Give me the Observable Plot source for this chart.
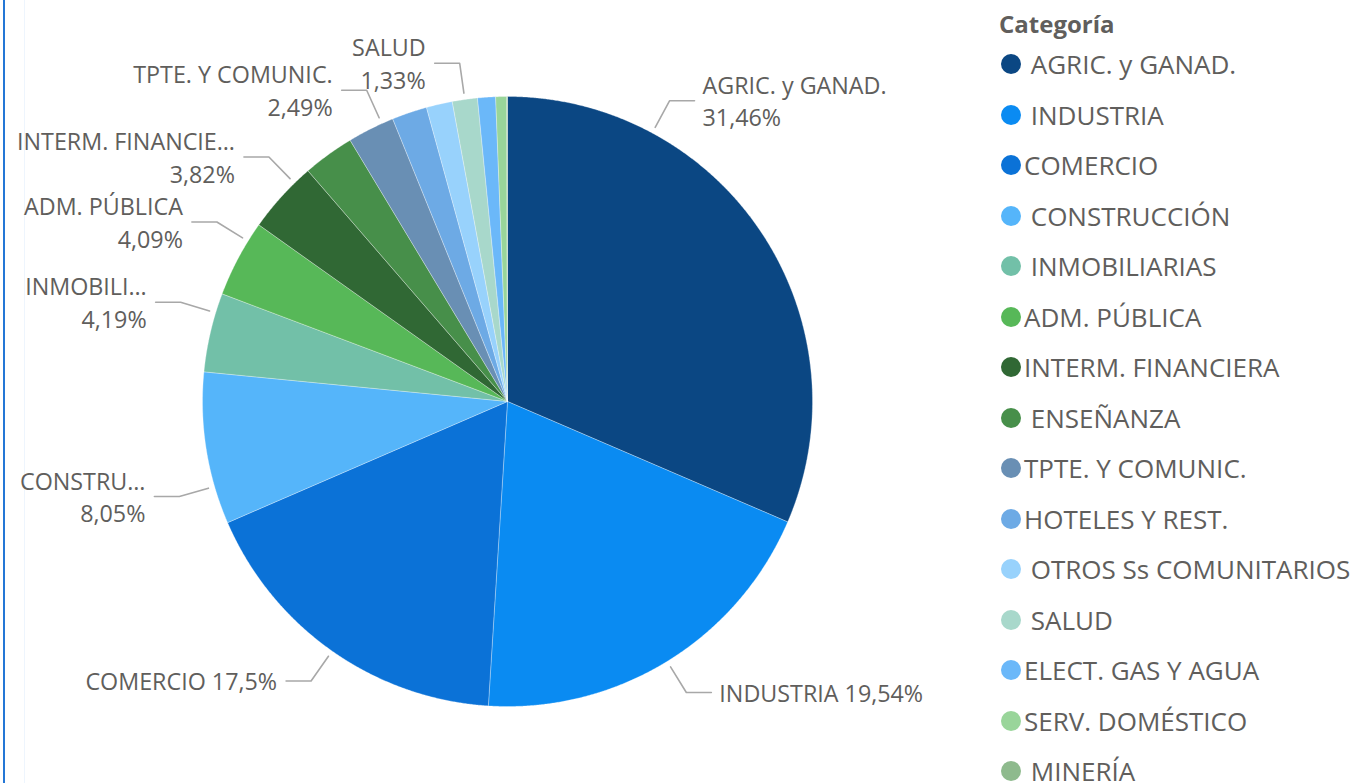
<!DOCTYPE html>
<html>
<head>
<meta charset="utf-8">
<script src="https://cdn.jsdelivr.net/npm/d3@7"></script>
<script src="https://cdn.jsdelivr.net/npm/@observablehq/plot@0.6"></script>
<style>
  html, body { margin: 0; padding: 0; background: #fff; overflow: hidden; }
  #wrap { position: relative; width: 1351px; height: 783px; overflow: hidden; font-family: "Open Sans", sans-serif; }
  #chart { position: absolute; left: 0; top: 0; }
  #edge { position: absolute; left: 3px; top: 0; width: 2px; height: 783px; background: #2477D6; }
  #edge2 { position: absolute; left: 24px; top: 0; width: 1px; height: 783px; background: #EEF5FD; }
  .lg-title { position: absolute; left: 999px; top: 4px; font-size: 24px; line-height: 40px; font-weight: 700; color: #605E5C; }
  .lg-row { position: absolute; left: 1001px; height: 50.5px; display: flex; align-items: center; white-space: pre; }
  .lg-dot { width: 20px; height: 20px; border-radius: 50%; flex: none; }
  .lg-text { margin-left: 3px; font-size: 26px; color: #605E5C; }
</style>
</head>
<body>
<div id="wrap">
  <div id="edge"></div>
  <div id="edge2"></div>
  <div id="chart"></div>
  <div id="legend"></div>
</div>
<script>
// ---- data ----
const categories = [
  " AGRIC. y GANAD.", " INDUSTRIA", "COMERCIO", " CONSTRUCCIÓN", " INMOBILIARIAS",
  "ADM. PÚBLICA", "INTERM. FINANCIERA", " ENSEÑANZA", "TPTE. Y COMUNIC.", "HOTELES Y REST.",
  " OTROS Ss COMUNITARIOS", " SALUD", "ELECT. GAS Y AGUA", "SERV. DOMÉSTICO", " MINERÍA"
];
const values = [31.46, 19.54, 17.5, 8.05, 4.19, 4.09, 3.82, 2.72, 2.49, 1.86, 1.38, 1.33, 0.95, 0.58, 0.04];
const colors = [
  "#0B4783", "#0A8BF2", "#0B72D7", "#55B5FA", "#72C0A8",
  "#57B858", "#306834", "#478F4A", "#698FB4", "#6DAAE5",
  "#98D2FC", "#A8D8CB", "#6BB8F9", "#99D59A", "#8EBA8D"
];
// where along each slice Power BI hung its data label (fraction of the slice); null = label hidden
const labelPos = [0.25, 0.5, 0.5, 0.25, 0.75, 0.75, 0.75, null, 0.75, null, null, 0.5, null, null, null];
// labels as truncated in the reference
const labelText = {
  " CONSTRUCCIÓN": "CONSTRU…",
  " INMOBILIARIAS": "INMOBILI…",
  "INTERM. FINANCIERA": "INTERM. FINANCIE…"
};

// ---- layout ----
const W = 990, H = 783, CX = 507, CY = 401, R = 305;
const total = d3.sum(values);
const fmt = p => (Math.round(p * 100) / 100).toString().replace(".", ",") + "%";

const slicePts = [];
const leaders = [];
const labels = [];
let cum = 0;
categories.forEach((name, i) => {
  const a0 = cum / total * 2 * Math.PI;
  const a1 = (cum + values[i]) / total * 2 * Math.PI;
  const n = Math.max(2, Math.ceil((a1 - a0) / 0.004));
  slicePts.push({name, x: 0, y: 0});
  for (let k = 0; k <= n; k++) {
    const a = a0 + (a1 - a0) * k / n;
    slicePts.push({name, x: Math.sin(a), y: Math.cos(a)});
  }
  slicePts.push({name, x: 0, y: 0});
  if (labelPos[i] != null) {
    const t = (cum + labelPos[i] * values[i]) / total * 2 * Math.PI;
    const s = Math.sin(t), c = Math.cos(t);
    const side = s >= 0 ? 1 : -1;
    const ex = 1.12 * s, ey = 1.12 * c;
    const hx = ex + side * 25 / R;
    leaders.push({id: name, x: 1.021 * s, y: 1.021 * c});
    leaders.push({id: name, x: ex, y: ey});
    leaders.push({id: name, x: hx, y: ey});
    const single = c < -0.7;
    const nm = labelText[name] || name.trim();
    const pct = fmt(values[i] / total * 100);
    labels.push({side, x: hx, y: ey, text: nm + (single ? " " : "\n") + pct});
  }
  cum += values[i];
});

const textOpts = {
  x: "x", y: "y", text: "text", lineAnchor: "middle", lineHeight: 1.39,
  fontSize: 23.3, fill: "#605E5C", fontFamily: "Open Sans", dy: -1
};

const chart = Plot.plot({
  width: W, height: H, margin: 0,
  style: {fontFamily: "Open Sans", background: "transparent", overflow: "visible"},
  x: {domain: [-CX / R, (W - CX) / R], range: [0, W], axis: null},
  y: {domain: [-(H - CY) / R, CY / R], range: [H, 0], axis: null},
  color: {domain: categories, range: colors},
  marks: [
    Plot.line(slicePts, {x: "x", y: "y", z: "name", fill: "name", stroke: "#ffffff", strokeWidth: 0.5, strokeOpacity: 0.6, curve: "linear"}),
    Plot.line(leaders, {x: "x", y: "y", z: "id", stroke: "#A8A8A8", strokeWidth: 1.6}),
    Plot.text(labels.filter(d => d.side > 0), {...textOpts, textAnchor: "start", dx: 8}),
    Plot.text(labels.filter(d => d.side < 0), {...textOpts, textAnchor: "end", dx: -9})
  ]
});
document.getElementById("chart").appendChild(chart);

// ---- legend ----
const lg = d3.select("#legend");
lg.append("div").attr("class", "lg-title").text("Categoría");
categories.forEach((name, i) => {
  const row = lg.append("div").attr("class", "lg-row").style("top", (39 + i * 50.5) + "px");
  row.append("span").attr("class", "lg-dot").style("background", colors[i]);
  row.append("span").attr("class", "lg-text").text(name);
});
</script>
</body>
</html>
